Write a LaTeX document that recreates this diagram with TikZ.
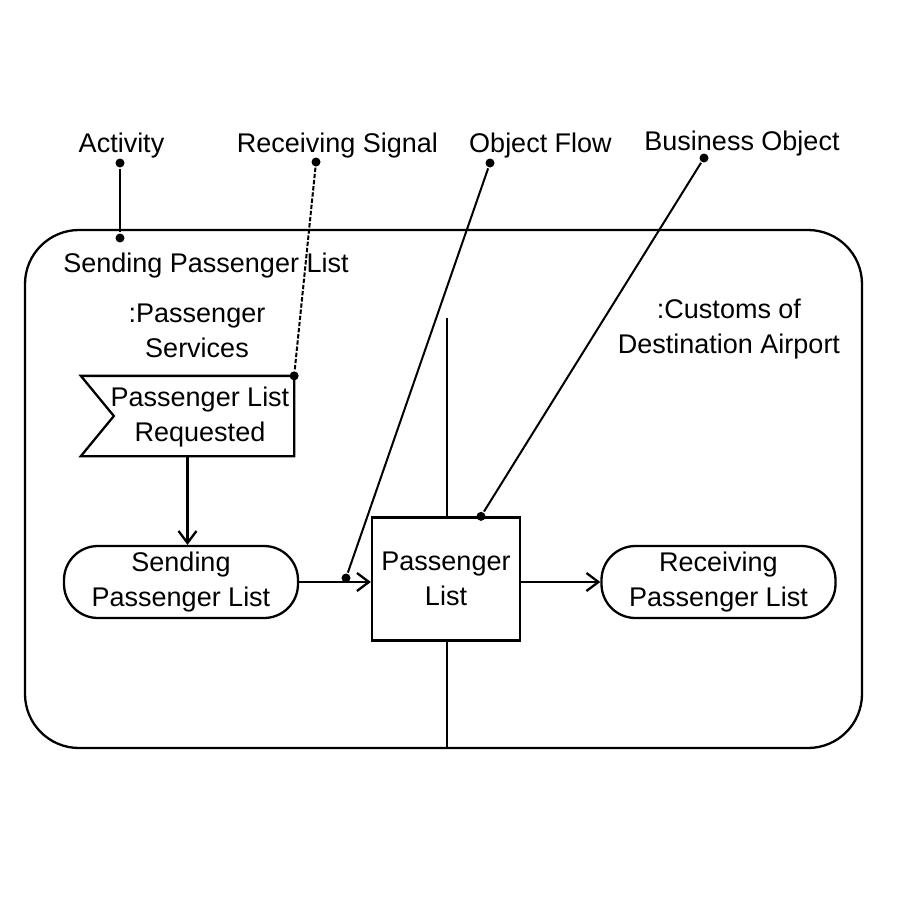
\documentclass[tikz,border=0pt]{standalone}
\usepackage{fontspec}
\setmainfont{Liberation Sans}
\usetikzlibrary{positioning, arrows.meta, calc}

\begin{document}
\begin{tikzpicture}[
  x=0.5pt, y=-0.5pt,
  font=\fontsize{13.5}{17.5}\selectfont, line width=1.15pt,
  frame/.style ={draw, rounded corners=27pt, minimum width=418.5pt, minimum height=259pt},
  action/.style={draw, rounded corners=17pt, align=center, minimum width=117pt, minimum height=36pt, inner sep=0pt},
  object/.style={draw, fill=white, align=center, minimum width=74pt, minimum height=61.5pt, inner sep=0pt},
  sigbox/.style={minimum width=105.5pt, minimum height=39pt, inner sep=0pt},
  lbl/.style   ={align=center, inner sep=0pt},
  pin/.style   ={circle, fill, inner sep=0pt, minimum size=4.5pt},
  flow/.style  ={-{Straight Barb[length=6pt, width=9pt]}},
  note/.style  ={line width=1pt},
]
\useasboundingbox (0,0) rectangle (900,900);

% ---------- activity frame ----------
\node[frame] (act) at (443.5,489) {};
\node[lbl] (actname) at (206,266) {Sending Passenger List};

% ---------- partitions ----------
\node[lbl] (pas) at (197,331) {:Passenger\\Services};
\node[lbl] (cus) at (729,329) {:Customs of\\Destination Airport};
\coordinate (parttop) at (447,318);
\draw (parttop) -- (parttop |- act.south);

% ---------- receive signal ----------
\node[sigbox] (req) at (187.5,416) {};
\draw (req.north west) -- (req.north east) -- (req.south east) -- (req.south west)
  -- ($(req.west)+(33,0)$) -- cycle;
\node[lbl] (reqtxt) at (200,417) {Passenger List\\Requested};

% ---------- actions and object ----------
\node[action] (send) at (181,582) {Sending\\Passenger List};
\node[object] (obj)  at (446,579) {Passenger\\List};
\node[action] (recv) at (718.5,582) {Receiving\\Passenger List};

\draw[flow] (req.south) -- (req.south |- send.north);
\draw[flow] (send.east) -- (send.east -| obj.west);
\draw[flow] (obj.east |- recv.west) -- (recv.west);

% ---------- annotations ----------
\node[lbl] (nact)  at (121.5,146) {Activity};
\node[lbl] (nsig)  at (337.5,146) {Receiving Signal};
\node[lbl] (nflow) at (540.5,146) {Object Flow};
\node[lbl] (nbo)   at (742,144)   {Business Object};

\node[pin] (pacta) at (120,163) {};
\node[pin] (pactb) at (120,238) {};
\node[pin] (psiga) at (316,162) {};
\node[pin] (psigb) at (req.north east) {};
\node[pin] (pflwa) at (490,163) {};
\node[pin] (pflwb) at (346,578) {};
\node[pin] (pboa)  at (704,158) {};
\node[pin] (pbob)  at (obj.north -| 481,0) {};

\draw[note] (pacta) -- (pactb);
\draw[note, dash pattern=on 2.2pt off 0.9pt] (psiga) -- (psigb);
\draw[note] (pflwa) -- (pflwb);
\draw[note] (pboa) -- (pbob);

\end{tikzpicture}
\end{document}
